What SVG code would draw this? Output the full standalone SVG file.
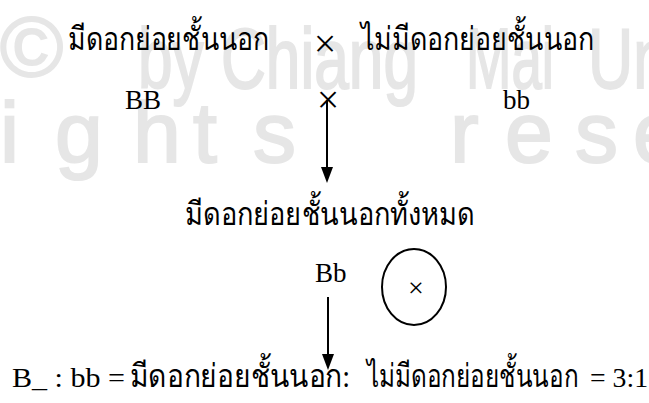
<svg xmlns="http://www.w3.org/2000/svg" width="649" height="403" viewBox="0 0 649 403">
<style>
.wm{font-family:"Liberation Sans",Arial,sans-serif;fill:#e6e6e6;stroke:#e6e6e6;stroke-width:2;font-size:86px}
.th{font-family:"Liberation Serif","Noto Sans",serif;font-size:32px;fill:#000}
.la{font-family:"Liberation Serif",serif;font-size:27px;fill:#000}
.x{font-family:"Liberation Serif",serif;fill:#000;text-anchor:middle}
.ln{stroke:#000;stroke-width:2;fill:none}
</style>
<rect width="649" height="403" fill="#fff"/>
<g id="watermark">
<text class="wm" x="0" y="76" font-size="74">©</text>
<text class="wm" x="138" y="88" textLength="280" lengthAdjust="spacingAndGlyphs">by Chiang</text>
<text class="wm" x="466" y="88" textLength="88" lengthAdjust="spacingAndGlyphs">Mai</text>
<text class="wm" x="588" y="88" textLength="80" lengthAdjust="spacingAndGlyphs">Un</text>
<text class="wm" x="0" y="162">i</text>
<text class="wm" x="55" y="162">g</text>
<text class="wm" x="133" y="162">h</text>
<text class="wm" x="193" y="162">t</text>
<text class="wm" x="253" y="162">s</text>
<text class="wm" x="450" y="162">r</text>
<text class="wm" x="505" y="162">e</text>
<text class="wm" x="575" y="162">s</text>
<text class="wm" x="633" y="162">e</text>
</g>
<g id="parent1"><text class="th" x="68" y="50" textLength="201" lengthAdjust="spacingAndGlyphs">มีดอกย่อยชั้นนอก</text></g>
<g id="cross1"><text class="x" x="325" y="57" font-size="40">×</text></g>
<g id="parent2"><text class="th" x="361" y="50" textLength="233" lengthAdjust="spacingAndGlyphs">ไม่มีดอกย่อยชั้นนอก</text></g>
<g id="geno1"><text class="la" x="125" y="109">BB</text></g>
<g id="cross2"><text class="x" x="328" y="113" font-size="40">×</text></g>
<g id="geno2"><text class="la" x="503" y="109">bb</text></g>
<g id="f1"><text class="th" x="185" y="225" textLength="290" lengthAdjust="spacingAndGlyphs">มีดอกย่อยชั้นนอกทั้งหมด</text></g>
<g id="f1geno"><text class="la" x="315" y="282">Bb</text></g>
<g id="self"><ellipse class="ln" cx="414" cy="287" rx="32" ry="38"/><text class="x" x="416" y="297" font-size="28">×</text></g>
<g id="result">
<text class="la" x="12" y="387" textLength="113" lengthAdjust="spacingAndGlyphs">B_ : bb =</text>
<text class="th" x="130" y="387" textLength="220" lengthAdjust="spacingAndGlyphs">มีดอกย่อยชั้นนอก:</text>
<text class="th" x="367" y="387" textLength="211" lengthAdjust="spacingAndGlyphs">ไม่มีดอกย่อยชั้นนอก</text>
<text class="la" x="590" y="387" textLength="58" lengthAdjust="spacingAndGlyphs">= 3:1</text>
</g>
<g id="connectors">
<line class="ln" x1="327" y1="100" x2="327" y2="168"/>
<polygon points="321,167 333,167 327,183" fill="#000"/>
<line class="ln" x1="328" y1="297" x2="328" y2="355"/>
<polygon points="322,354 334,354 328,370" fill="#000"/>
</g>
</svg>
